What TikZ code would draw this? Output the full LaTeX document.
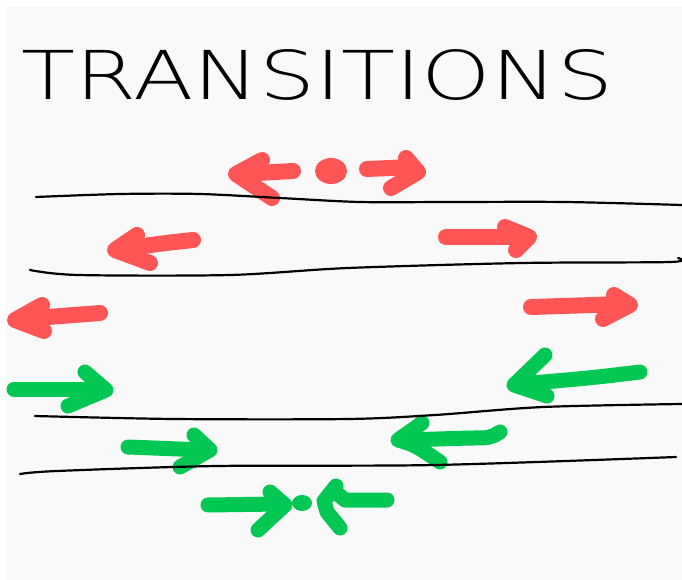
\documentclass[tikz,border=0pt]{standalone}
\usepackage{fontspec}
\usepackage{graphicx}
\newfontfamily\titlefont{DejaVu Sans ExtraLight}
\definecolor{redc}{HTML}{FF5555}
\definecolor{greenc}{HTML}{00C853}
\definecolor{paper}{HTML}{F9F9F9}
\begin{document}
\begin{tikzpicture}[x=1pt,y=-1pt,
  redarrow/.style={draw=redc,line width=16pt,line cap=round,line join=round},
  greenarrow/.style={draw=greenc,line width=15pt,line cap=round,line join=round},
  roadline/.style={draw=black,line width=2.2pt,line cap=round}]
\useasboundingbox (0,0) rectangle (682,580);
\fill[white] (0,0) rectangle (682,580);
\fill[paper] (6,6) rectangle (682,580);
% title
\node[anchor=base west,inner sep=0pt] (title) at (21,100)
  {\resizebox{592pt}{50pt}{\titlefont TRANSITIONS}};
% red arrows
\draw[redarrow] (293,171) -- (240,174);
\draw[redarrow] (262,160) -- (236,174) -- (272,198);
\fill[redc] (331,171) ellipse [x radius=16,y radius=13];
\draw[redarrow] (367,169) -- (412,167);
\draw[redarrow] (406,158) -- (418,172) -- (391,188);
\draw[redarrow] (193,240) .. controls (165,243) .. (122,249);
\draw[redarrow] (137,235) -- (115,250) -- (150,263);
\draw[redarrow] (446,237) -- (523,237);
\draw[redarrow] (505,227) -- (529,237) -- (516,250);
\draw[redarrow] (100,313) -- (22,319);
\draw[redarrow] (42,305) -- (15,320) -- (44,331);
\draw[redarrow] (531,307) -- (624,304);
\draw[redarrow] (614,295) -- (630,305) -- (603,319);
% green arrows
\draw[greenarrow] (14,389) -- (100,389);
\draw[greenarrow] (85,372) -- (106,390) -- (68,406);
\draw[greenarrow] (640,372) .. controls (590,378) .. (520,384);
\draw[greenarrow] (545,355) -- (514,385) -- (547,396);
\draw[greenarrow] (128,447) -- (204,450);
\draw[greenarrow] (194,435) -- (210,450) -- (180,467);
\draw[greenarrow] (500,432) .. controls (490,438) .. (470,438) -- (404,440);
\draw[greenarrow] (422,423) -- (398,440) .. controls (415,445) .. (440,462);
\draw[greenarrow] (208,505) -- (280,504);
\draw[greenarrow] (270,492) -- (285,505) -- (258,530);
\fill[greenc] (302,503) ellipse [x radius=10,y radius=8];
\draw[greenarrow] (387,500) -- (345,500) -- (339,495);
\draw[greenarrow] (336,486) -- (324,501) -- (327,512) -- (340,528);
% road lines
\draw[roadline] plot[smooth] coordinates {(36,197) (120,194) (200,194) (280,198) (360,202) (450,202) (565,202) (682,205)};
\draw[roadline] plot[smooth] coordinates {(30,270) (78,275) (230,275) (348,268) (522,263) (670,262) (678,258)};
\draw[roadline] plot[smooth] coordinates {(35,416) (174,419) (348,419) (435,415) (543,407) (682,404)};
\draw[roadline] plot[smooth] coordinates {(20,474) (57,471) (217,466) (435,465) (676,457)};
\end{tikzpicture}
\end{document}
